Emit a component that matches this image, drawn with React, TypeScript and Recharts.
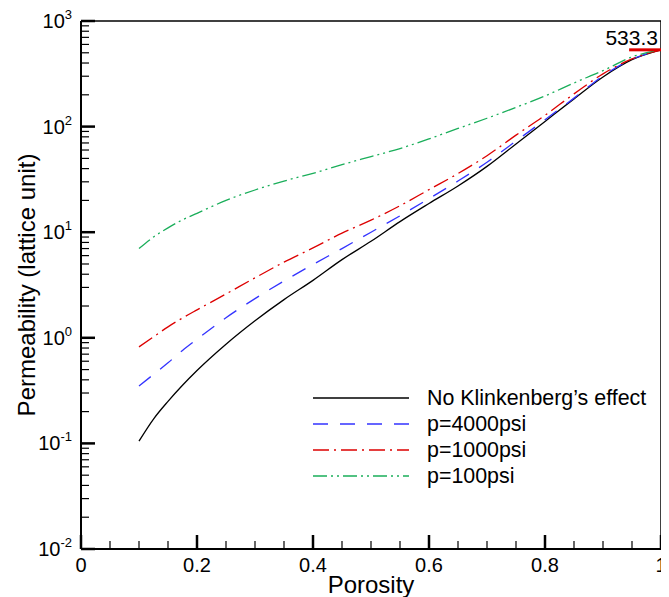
import React from "react";
import { LineChart, Line, XAxis, YAxis, ReferenceLine } from "recharts";

const porosity = [0.1, 0.125, 0.15, 0.175, 0.2, 0.25, 0.3, 0.35, 0.4, 0.45, 0.5, 0.55, 0.6, 0.65, 0.7, 0.75, 0.8, 0.85, 0.9, 0.95, 1.0];
const noKlinkenberg = [0.105, 0.17, 0.25, 0.355, 0.49, 0.87, 1.45, 2.3, 3.5, 5.5, 8.2, 12.6, 18.7, 27.4, 42, 68.5, 112, 183, 295, 430, 533.3];
const p4000 = [0.35, 0.45, 0.58, 0.76, 0.97, 1.55, 2.35, 3.45, 4.95, 7.0, 10.0, 14.3, 20.8, 30.5, 46, 73, 116, 186, 302, 435, 533.3];
const p1000 = [0.82, 1.02, 1.27, 1.54, 1.84, 2.6, 3.7, 5.2, 7.1, 9.8, 13, 17.8, 25.3, 35.9, 53, 83, 128, 204, 316, 437, 533.3];
const p100 = [7.0, 9.0, 11.0, 13.1, 15.1, 20, 25.1, 30.5, 36.1, 43.6, 52, 62, 76.5, 96, 120, 152, 195, 259, 339, 457, 533.3];

const xTicks = [0, 0.2, 0.4, 0.6, 0.8, 1];
const xMinorTicks = [0.05, 0.1, 0.15, 0.25, 0.3, 0.35, 0.45, 0.5, 0.55, 0.65, 0.7, 0.75, 0.85, 0.9, 0.95];
const yTicks = [0.01, 0.1, 1, 10, 100, 1000];
const yMinorTicks = [
  0.02, 0.03, 0.04, 0.05, 0.06, 0.07, 0.08, 0.09,
  0.2, 0.3, 0.4, 0.5, 0.6, 0.7, 0.8, 0.9,
  2, 3, 4, 5, 6, 7, 8, 9,
  20, 30, 40, 50, 60, 70, 80, 90,
  200, 300, 400, 500, 600, 700, 800, 900,
];
const seriesNames = ["No Klinkenberg\u2019s effect", "p=4000psi", "p=1000psi", "p=100psi"];
const peakValue = 533.3;

const FONT = '"Liberation Sans", Arial, Helvetica, sans-serif';

// plot box is 580 px wide, 5 decades over 528 px tall; inward tick lengths in px
const PLOT_W = 580;
const DECADE_PX = 528 / 5;
const MAJOR_LEN = 14;
const MINOR_LEN = 8;
const Y_MIN = 0.01;

const data = porosity.map((x, i) => ({
  x,
  k0: noKlinkenberg[i],
  k4000: p4000[i],
  k1000: p1000[i],
  k100: p100[i],
}));

const styles = [
  { key: "k0", color: "#000000", dash: undefined },
  { key: "k4000", color: "#3333ff", dash: "15 12" },
  { key: "k1000", color: "#dd0000", dash: "16 5 2 5" },
  { key: "k100", color: "#1aae5a", dash: "14 4 2 4 2 4" },
];

const XTick = (props: any) => {
  const { x, y, payload } = props;
  return (
    <text x={x} y={y + 23} textAnchor="middle" fontSize={20} fontFamily={FONT} fill="#000">
      {String(payload.value)}
    </text>
  );
};

const YTick = (props: any) => {
  const { x, y, payload } = props;
  const e = Math.round(Math.log10(payload.value));
  return (
    <text x={x - 9} y={y + 7} textAnchor="end" fontFamily={FONT} fill="#000">
      <tspan fontSize={20}>10</tspan>
      <tspan fontSize={13} dy={-9}>{String(e)}</tspan>
    </text>
  );
};

const xTickMarks = (vals: number[], len: number, w: number) =>
  vals.map((v) => (
    <ReferenceLine
      key={`xt${v}`}
      segment={[{ x: v, y: Y_MIN }, { x: v, y: Y_MIN * Math.pow(10, len / DECADE_PX) }]}
      stroke="#000"
      strokeWidth={w}
      ifOverflow="visible"
    />
  ));

const yTickMarks = (vals: number[], len: number, w: number) =>
  vals.map((v) => (
    <ReferenceLine
      key={`yt${v}`}
      segment={[{ x: 0, y: v }, { x: len / PLOT_W, y: v }]}
      stroke="#000"
      strokeWidth={w}
      ifOverflow="visible"
    />
  ));

export default function App() {
  return (
    <div style={{ position: "relative", width: 661, height: 589, fontFamily: FONT }}>
      <LineChart width={661} height={589} data={data} margin={{ top: 13, right: 8, left: 0, bottom: 0 }}>
        <XAxis
          type="number"
          dataKey="x"
          domain={[0, 1]}
          allowDataOverflow
          ticks={xTicks}
          interval={0}
          tickSize={0}
          tickMargin={0}
          tickLine={false}
          axisLine={{ stroke: "#000", strokeWidth: 2 }}
          height={48}
          tick={<XTick />}
          label={{
            content: ({ viewBox }: any) => (
              <text x={viewBox.x + viewBox.width / 2} y={viewBox.y + 44} textAnchor="middle" fontSize={24} fontFamily={FONT} fill="#000">
                Porosity
              </text>
            ),
          }}
        />
        <YAxis
          scale="log"
          type="number"
          domain={[Y_MIN, 1000]}
          allowDataOverflow
          ticks={yTicks}
          interval={0}
          tickSize={0}
          tickMargin={0}
          tickLine={false}
          axisLine={{ stroke: "#000", strokeWidth: 2 }}
          width={73}
          tick={<YTick />}
          label={{
            content: ({ viewBox }: any) => {
              const cx = 27;
              const cy = viewBox.y + viewBox.height / 2;
              return (
                <text x={cx} y={cy} transform={`rotate(-90 ${cx} ${cy})`} textAnchor="middle" fontSize={24} fontFamily={FONT} fill="#000">
                  Permeability (lattice unit)
                </text>
              );
            },
          }}
        />
        <ReferenceLine y={1000} stroke="#000" strokeWidth={1.5} ifOverflow="visible" />
        <ReferenceLine x={1} stroke="#000" strokeWidth={1.5} ifOverflow="visible" />
        {xTickMarks(xTicks, MAJOR_LEN, 2.5)}
        {xTickMarks(xMinorTicks, MINOR_LEN, 1.2)}
        {yTickMarks(yTicks, MAJOR_LEN, 2.5)}
        {yTickMarks(yMinorTicks, MINOR_LEN, 1.2)}
        {styles.map((s) => (
          <Line
            key={s.key}
            type="monotone"
            dataKey={s.key}
            stroke={s.color}
            strokeWidth={1.3}
            strokeDasharray={s.dash}
            dot={false}
            isAnimationActive={false}
          />
        ))}
        <ReferenceLine
          segment={[{ x: 0.945, y: peakValue }, { x: 1, y: peakValue }]}
          stroke="#dd0000"
          strokeWidth={3}
          ifOverflow="visible"
          label={{
            content: ({ viewBox }: any) => (
              <text x={viewBox.x + viewBox.width - 3} y={viewBox.y - 5} textAnchor="end" fontSize={21} fontFamily={FONT} fill="#000">
                {String(peakValue)}
              </text>
            ),
          }}
        />
      </LineChart>
      <svg width={661} height={589} style={{ position: "absolute", left: 0, top: 0, pointerEvents: "none" }}>
        {seriesNames.map((name, i) => {
          const y = 390 + i * 26;
          return (
            <g key={name}>
              <line x1={305} x2={401} y1={y} y2={y} stroke={styles[i].color} strokeWidth={1.3} strokeDasharray={styles[i].dash} />
              <text x={419} y={y + 7} fontSize={21.4} fontFamily={FONT} fill="#000">
                {name}
              </text>
            </g>
          );
        })}
      </svg>
    </div>
  );
}
